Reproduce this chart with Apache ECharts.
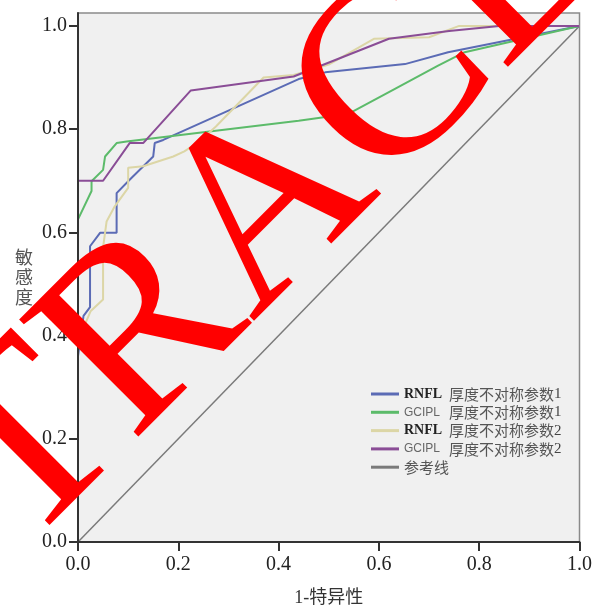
<!DOCTYPE html>
<html>
<head>
<meta charset="utf-8">
<script src="https://cdn.jsdelivr.net/npm/echarts@6/dist/echarts.min.js"></script>
<style>html,body{margin:0;padding:0;background:#fff;}#c{width:595px;height:612px;}</style>
</head>
<body>
<div id="c"></div>
<script>
// ---- data (x = 1-特异性, y = 敏感度) ----
const seriesNames = ['RNFL 厚度不对称参数1', 'GCIPL  厚度不对称参数1', 'RNFL 厚度不对称参数2', 'GCIPL  厚度不对称参数2', '参考线'];
const rnfl1 = [[0,0],[0,0.36],[0.011,0.438],[0.024,0.455],[0.024,0.573],[0.044,0.599],[0.077,0.599],[0.077,0.676],[0.103,0.702],[0.150,0.747],[0.153,0.773],[0.17,0.779],[0.44,0.897],[0.493,0.910],[0.652,0.926],[0.738,0.949],[1,1]];
const gcipl1 = [[0,0],[0,0.625],[0.027,0.68],[0.027,0.699],[0.05,0.721],[0.054,0.747],[0.077,0.773],[0.097,0.776],[0.44,0.816],[0.54,0.83],[0.632,0.878],[0.718,0.923],[0.771,0.949],[1,1]];
const rnfl2 = [[0,0],[0,0.39],[0.025,0.447],[0.05,0.47],[0.05,0.571],[0.057,0.621],[0.073,0.65],[0.1,0.686],[0.1,0.725],[0.13,0.728],[0.19,0.747],[0.212,0.757],[0.242,0.776],[0.275,0.805],[0.37,0.9],[0.43,0.905],[0.5,0.925],[0.59,0.975],[0.70,0.978],[0.76,1.0],[1,1]];
const gcipl2 = [[0,0],[0,0.70],[0.05,0.70],[0.103,0.773],[0.13,0.773],[0.225,0.875],[0.43,0.902],[0.62,0.975],[0.74,0.99],[0.84,1.0],[1,1]];
const refLine = [[0,0],[1,1]];
const yTicks = [0, 0.2, 0.4, 0.6, 0.8, 1.0];
const colors = ['#5b6bb5', '#5cbb6a', '#dcd6a6', '#8a4d96', '#7a7a7a'];
const seriesData = [rnfl1, gcipl1, rnfl2, gcipl2, refLine];

const serif = "'Liberation Serif','Noto Sans CJK SC'";
const chart = echarts.init(document.getElementById('c'), null, {renderer: 'canvas'});

function legendFmt(name) {
  if (name === '参考线') return '{c|参考线}';
  const parts = name.split(/\s+/);
  const head = parts[0] === 'RNFL' ? '{r|RNFL}' : '{g|GCIPL}';
  const tail = parts[1];
  return head + '{c|' + tail.slice(0, -1) + '}{n|' + tail.slice(-1) + '}';
}

chart.setOption({
  animation: false,
  color: colors,
  grid: {left: 78, right: 13, top: 13, bottom: 69, show: true, backgroundColor: '#f0f0f0', borderColor: '#8a8a8a', borderWidth: 1.5},
  xAxis: {
    type: 'value', min: 0, max: 1, interval: 0.2, z: 10,
    axisLine: {lineStyle: {color: '#333', width: 2}},
    axisTick: {length: 9, lineStyle: {color: '#333', width: 2}},
    axisLabel: {formatter: v => v.toFixed(1), fontFamily: serif, fontSize: 20, color: '#222', margin: 13, showMinLabel: true, showMaxLabel: true},
    splitLine: {show: false},
    name: '1-特异性', nameLocation: 'middle', nameGap: 47,
    nameTextStyle: {fontFamily: serif, fontSize: 18, color: '#333'}
  },
  yAxis: {
    type: 'value', min: 0, max: 1.025, interval: 0.2, z: 10,
    axisLine: {lineStyle: {color: '#333', width: 2}},
    axisTick: {length: 9, customValues: yTicks, lineStyle: {color: '#333', width: 2}},
    axisLabel: {customValues: yTicks, formatter: v => v.toFixed(1), fontFamily: serif, fontSize: 20, color: '#222', margin: 11},
    splitLine: {show: false},
    name: '敏\n感\n度', nameLocation: 'middle', nameRotate: 0, nameGap: 45,
    nameTextStyle: {fontFamily: "'Noto Sans CJK SC'", fontSize: 18, lineHeight: 20, color: '#555', padding: [0, 0, 8, 0]}
  },
  legend: {
    orient: 'vertical', left: 366, top: 380, itemGap: 0.3,
    itemWidth: 28, itemHeight: 3, icon: 'rect',
    data: seriesNames,
    formatter: legendFmt,
    textStyle: {
      lineHeight: 18,
      rich: {
        r: {fontFamily: "'Liberation Serif'", fontWeight: 'bold', fontSize: 14, color: '#222', width: 45, lineHeight: 18},
        g: {fontFamily: "'Liberation Sans'", fontSize: 12, color: '#666', width: 45, lineHeight: 18},
        c: {fontFamily: "'Noto Sans CJK SC'", fontSize: 15, color: '#555', lineHeight: 18},
        n: {fontFamily: "'Liberation Serif'", fontSize: 15, color: '#444', lineHeight: 18}
      }
    }
  },
  series: seriesData.map((d, i) => ({
    name: seriesNames[i], type: 'line', data: d, symbol: 'none', smooth: false,
    lineStyle: {width: i === 4 ? 1.5 : 2, color: colors[i]},
    itemStyle: {color: colors[i]},
    z: i === 4 ? 1 : 2 + i
  })),
  graphic: [{
    type: 'text', x: 270, y: 210, rotation: Math.PI / 4, z: 100,
    style: {text: 'TRACE', font: "255px 'Liberation Serif'", fill: '#ff0000', align: 'center', verticalAlign: 'middle'}
  }]
});
</script>
</body>
</html>
